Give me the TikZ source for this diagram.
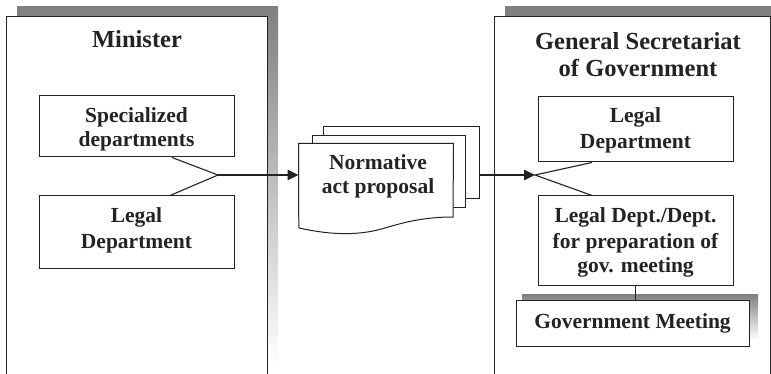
\documentclass[tikz,border=0pt]{standalone}
\usepackage{fontspec}
\setmainfont{Liberation Serif}
\usetikzlibrary{arrows.meta}
\definecolor{ink}{RGB}{35,35,35}
\definecolor{shade}{RGB}{213,216,215}
\begin{document}
\begin{tikzpicture}[x=1pt, y=-1pt, line width=1pt,
  lbl/.style={font=\bfseries\fontsize{21.5}{24.5}\selectfont, text=ink, inner sep=0pt, anchor=base},
  ttl/.style={font=\bfseries\fontsize{24.5}{27}\selectfont, text=ink, inner sep=0pt, anchor=base},
  box/.style={draw=ink, fill=white, inner sep=0pt},
  wire/.style={draw=ink, line width=1.1pt},
  arrow/.style={wire, -{Triangle[length=11pt, width=10.5pt]}}]
  \useasboundingbox (0,0) rectangle (771,374);
  \clip (0,0) rectangle (771,374);

  % panels with their drop shadows
  \fill[shade] (17,7) rectangle (278,365);
  \draw[draw=ink, fill=white] (6,17) rectangle (267,400);
  \fill[shade] (505,7) rectangle (790,400);
  \draw[draw=ink, fill=white] (494,17) rectangle (770.5,410);

  % Minister side
  \node[ttl] (tmin) at (137,48) {Minister};
  \node[box, minimum width=195, minimum height=61] (spec) at (136.5,126.5) {};
  \node[lbl] (spec1) at (136.5,123) {Specialized};
  \node[lbl] (spec2) at (136.5,147) {departments};
  \node[box, minimum width=195, minimum height=72] (llegal) at (136.5,232) {};
  \node[lbl] (llegal1) at (136.5,223) {Legal};
  \node[lbl] (llegal2) at (136.5,248) {Department};

  % document stack
  \node[box, minimum width=156, minimum height=72] (doc3) at (401,163) {};
  \node[box, minimum width=153, minimum height=72] (doc2) at (388.5,172) {};
  \node[minimum width=154, minimum height=62, inner sep=0pt] (doc) at (376,175) {};
  \draw[draw=ink, fill=white] (doc.south west) -- (doc.north west) -- (doc.north east)
    -- (453,217) .. controls (425,217) and (405,222) .. (385,228)
    .. controls (362,235) and (335,236) .. (299,228) -- cycle;
  \node[lbl] (doc1) at (378,170) {Normative};
  \node[lbl] (docb) at (378,194) {act proposal};

  % General Secretariat side
  \node[ttl] (tgen1) at (638,50) {General Secretariat};
  \node[ttl] (tgen2) at (638,77) {of Government};
  \node[box, minimum width=195, minimum height=65] (rlegal) at (635.5,129.5) {};
  \node[lbl] (rlegal1) at (635.5,123) {Legal};
  \node[lbl] (rlegal2) at (635.5,149) {Department};
  \node[box, minimum width=195, minimum height=89] (rdept) at (635.5,240.5) {};
  \node[lbl] (rdept1) at (635.5,223) {Legal Dept./Dept.};
  \node[lbl] (rdept2) at (635.5,248) {for preparation of};
  \node[lbl] (rdept3) at (635.5,272) {gov. meeting};
  \fill[shade] (522,294) rectangle (758,340);
  \node[box, minimum width=233, minimum height=46] (gov) at (632.5,323) {};
  \node[lbl] (gov1) at (632.5,328) {Government Meeting};

  % connectors
  \coordinate (jl) at (218,175);
  \coordinate (jr) at (535,175);
  \draw[wire] ([xshift=35.5pt]spec.south) -- (jl) -- ([xshift=33.5pt]llegal.north);
  \draw[arrow] (jl) -- (doc.west);
  \draw[arrow] (doc3.east |- doc.west) -- (jr);
  \draw[wire] ([xshift=-43.5pt]rlegal.south) -- (jr) -- ([xshift=-43.5pt]rdept.north);
  \draw[wire] (rdept.south) -- (rdept.south |- gov.north);
\end{tikzpicture}
\end{document}
